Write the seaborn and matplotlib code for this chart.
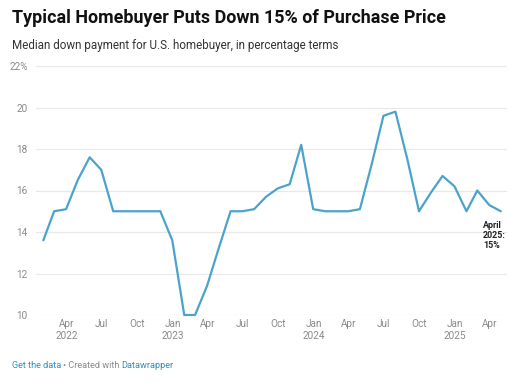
import pandas as pd
import matplotlib
matplotlib.use('Agg')
import matplotlib.pyplot as plt
import seaborn as sns

sns.set_style('white')
plt.rcParams['font.family'] = ['Roboto', 'DejaVu Sans']

# median down payment, % of purchase price, month-end values Jan 2022 - Apr 2025
months = pd.date_range('2022-01-31', '2025-04-30', freq='ME')
down_pct = [13.6, 15.0, 15.1, 16.5, 17.6, 17.0, 15.0, 15.0, 15.0, 15.0, 15.0, 13.6,
            10.0, 10.0, 11.4, 13.2, 15.0, 15.0, 15.1, 15.7, 16.1, 16.3, 18.2, 15.1,
            15.0, 15.0, 15.0, 15.1, 17.3, 19.6, 19.8, 17.5, 15.0, 15.9, 16.7, 16.2,
            15.0, 16.0, 15.3, 15.0]
tick_dates = pd.date_range('2022-04-01', '2025-04-01', freq='QS')
tick_labels = ['Apr\n2022', 'Jul', 'Oct', 'Jan\n2023', 'Apr', 'Jul', 'Oct', 'Jan\n2024',
               'Apr', 'Jul', 'Oct', 'Jan\n2025', 'Apr']
y_ticks = [10, 12, 14, 16, 18, 20, 22]
y_labels = ['10', '12', '14', '16', '18', '20', '22%']

df = pd.DataFrame({'month': months, 'pct': down_pct})

fig = plt.figure(figsize=(5.1, 3.82), dpi=100)
ax = fig.add_axes([36 / 510, 1 - 315 / 382, (507 - 36) / 510, (315 - 66) / 382])

sns.lineplot(data=df, x='month', y='pct', ax=ax, color='#4ba3cc', linewidth=1.6,
             clip_on=False)

ax.set_ylim(10, 22)
ax.set_xlim(pd.Timestamp('2022-01-12'), pd.Timestamp('2025-05-16'))
ax.set_yticks(y_ticks)
ax.set_yticklabels(y_labels)
ax.set_xticks(tick_dates)
ax.set_xticklabels(tick_labels, linespacing=1.25)
ax.tick_params(axis='both', length=0, labelsize=7.2, colors='#8a8a8a')
ax.tick_params(axis='x', pad=3)
ax.tick_params(axis='y', pad=6)
ax.grid(axis='y', color='#e8e8e8', linewidth=0.9)
ax.grid(axis='x', visible=False)
for s in ax.spines.values():
    s.set_visible(False)
ax.set_xlabel('')
ax.set_ylabel('')

# end-of-line annotation
fig.text(483 / 510, 1 - 221 / 382, 'April\n2025:\n15%', fontsize=6.4,
         fontweight='bold', color='#222222', va='top', ha='left',
         multialignment='left', linespacing=1.15)

fig.text(12 / 510, 1 - 18 / 382, 'Typical Homebuyer Puts Down 15% of Purchase Price',
         fontsize=12.9, fontweight='bold', color='#111111', va='center')
fig.text(12 / 510, 1 - 45 / 382, 'Median down payment for U.S. homebuyer, in percentage terms',
         fontsize=8.35, color='#333333', va='center')

y_foot = 1 - 366 / 382
t1 = fig.text(12 / 510, y_foot, 'Get the data', fontsize=6.6, color='#2f8fbf', va='center')
fig.canvas.draw()
bb = t1.get_window_extent()
t2 = fig.text((bb.x1 + 2) / 510, y_foot, '• Created with', fontsize=6.6,
              color='#8a8a8a', va='center')
bb2 = t2.get_window_extent()
fig.text((bb2.x1 + 2) / 510, y_foot, 'Datawrapper', fontsize=6.6, color='#2f8fbf',
         va='center')

fig.savefig('out.png', dpi=100)
